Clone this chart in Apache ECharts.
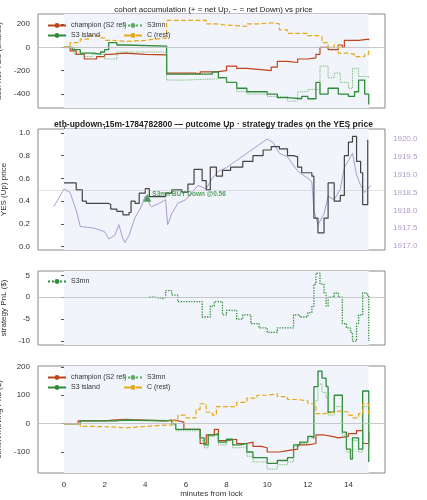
<!DOCTYPE html>
<html>
<head>
<meta charset="utf-8">
<script src="https://cdn.jsdelivr.net/npm/echarts@6.0.0/dist/echarts.min.js"></script>
<style>html,body{margin:0;background:#fff}#main{width:427px;height:500px}</style>
</head>
<body>
<div id="main"></div>
<script>
// panel 1: accumulated net YES shares
var accChampT = [0,0.3,0.6,1.0,1.6,2.0,2.3,3.0,4.0,5.05,6.5,6.7,7.5,8.0,8.5,9.0,9.7,10.2,10.5,11.0,11.5,12.0,12.4,12.6,13.0,13.5,13.7,13.8,14.5,15.0];
var accChampV = [0,-30,-60,-100,-80,-60,-50,-60,-65,-220,-230,-210,-200,-160,-180,-190,-200,-170,-120,-130,-100,-90,-60,0,-20,20,0,60,70,60];
var accIslT = [0,0.4,0.8,1.5,1.8,2.0,2.2,2.6,3.0,5.05,7.0,7.3,7.6,8.0,8.5,9.0,10.0,10.5,11.0,11.7,12.0,12.4,12.6,13.0,13.5,14.0,14.3,14.5,14.8,15.0];
var accIslV = [0,-20,-50,-60,-40,-20,40,20,10,-230,-230,-210,-260,-300,-350,-380,-400,-430,-440,-420,-440,-300,-400,-350,-400,-420,-380,-280,-400,-490];
var accMnT = [0,0.5,1.0,1.4,2.0,2.6,5.05,6.0,7.5,8.0,8.5,9.0,10.0,11.0,11.5,12.0,12.6,13.0,13.3,13.6,14.0,14.2,14.5,15.0];
var accMnV = [0,-60,-80,-60,-100,-40,-280,-270,-260,-300,-380,-400,-420,-460,-380,-360,-160,-260,-220,-300,-350,-180,-250,-260];
var accCT = [0,0.3,0.8,1.2,1.8,2.0,2.4,3.0,4.0,4.5,5.05,6.5,7.0,7.5,8.0,9.0,9.5,10.3,10.6,11.0,12.0,12.5,12.7,13.0,13.3,13.5,14.0,14.3,14.8,15.0];
var accCV = [0,40,70,100,80,60,50,60,70,80,230,230,200,190,180,200,210,200,150,120,100,90,40,0,20,-50,-60,-80,-60,-10];

// panel 2: YES price and ETH/USD
var yesT = [0,0.5,0.6,0.9,1.1,2.2,2.3,2.6,2.9,3.2,3.3,3.5,3.7,4.0,4.2,5.0,5.3,5.8,6.1,6.4,6.8,7.0,7.2,7.5,7.8,8.2,8.8,9.3,9.8,10.2,10.6,11.0,11.3,11.5,11.7,12.2,12.3,12.5,12.8,13.0,13.3,13.6,13.8,14.0,14.2,14.4,14.6,14.7,14.95];
var yesV = [0.56,0.56,0.5,0.4,0.38,0.37,0.33,0.31,0.28,0.30,0.40,0.38,0.47,0.51,0.44,0.47,0.50,0.48,0.55,0.68,0.58,0.50,0.70,0.62,0.67,0.70,0.75,0.80,0.85,0.88,0.86,0.80,0.79,0.70,0.65,0.62,0.25,0.12,0.25,0.56,0.40,0.45,0.80,0.92,0.97,0.75,0.65,0.37,0.94];
var ethT = [-0.5,-0.3,0,0.3,0.6,0.8,1.5,2.0,2.2,2.5,2.7,2.9,3.0,3.2,3.5,3.8,4.0,4.3,4.7,5.0,5.1,5.3,5.6,6.0,6.3,6.6,7.0,7.3,7.6,8.0,8.5,9.0,9.5,10.0,10.3,10.6,11.0,11.5,12.0,12.2,12.3,12.5,12.8,13.0,13.3,13.6,13.8,14.0,14.2,14.4,14.6,14.8,15.1];
var ethV = [1918.1,1918.3,1918.6,1918.5,1918.0,1917.55,1917.5,1917.4,1917.2,1917.3,1917.6,1917.2,1917.1,1917.3,1917.8,1918.1,1918.4,1918.1,1918.2,1918.3,1917.6,1917.9,1918.2,1918.3,1918.5,1918.7,1918.6,1918.9,1919.1,1919.2,1919.4,1919.6,1919.8,1920.0,1919.9,1919.6,1919.5,1919.1,1918.9,1918.8,1918.0,1917.6,1917.9,1918.4,1918.3,1918.6,1919.2,1919.4,1919.6,1919.0,1918.7,1918.5,1918.7];
var tradeT = [4.1];
var tradeV = [0.43];

// panel 3: strategy PnL
var pnlT = [4.2,4.5,4.9,5.0,5.3,5.6,6.5,6.8,7.2,7.4,7.8,8.0,8.5,8.8,9.2,9.6,10.0,10.5,11.0,11.3,11.6,12.0,12.2,12.3,12.4,12.6,12.8,12.9,13.0,13.3,13.5,13.7,13.9,14.1,14.2,14.4,14.5,14.7,14.9,15.0];
var pnlV = [0,-0.3,0,1.5,0.5,-1,-1,-4.5,-2,-1,-4,-3,-5,-4,-6,-7,-8,-7,-7,-4,-4.5,-3.5,-2,3,5.5,3,1,-2,0,1,0,-6,-7,-8,-10,-6,-4,1,0.5,-10];

// panel 4: cohort moving PnL
var mvChampT = [0,0.6,0.7,2.0,2.4,3.0,5.0,5.5,5.9,6.5,6.7,7.0,7.4,7.6,8.0,8.5,9.0,9.3,9.7,10.0,10.6,11.0,11.5,12.0,12.4,12.8,13.2,13.5,14.0,14.4,14.7,15.0];
var mvChampV = [0,0,10,12,15,10,12,5,-20,-20,-70,-40,-20,-60,-55,-70,-65,-80,-85,-100,-95,-90,-75,-70,-40,-45,-50,-45,-35,-25,-70,-30];
var mvIslT = [0,0.6,0.8,2.5,3.0,5.0,5.3,5.5,6.6,6.7,6.9,7.1,7.4,7.6,8.0,8.3,8.7,9.0,9.3,10.0,10.5,11.0,11.3,11.6,12.0,12.2,12.3,12.5,12.7,12.9,13.0,13.3,13.6,13.7,13.9,14.1,14.2,14.5,14.7,14.9,15.0];
var mvIslV = [0,0,10,12,10,12,0,-20,-20,-50,-75,-40,-35,-65,-55,-75,-70,-100,-120,-140,-130,-120,-75,-65,-45,-50,130,185,160,130,40,100,100,-30,-90,-125,-50,-90,115,115,-135];
var mvMnT = [0,0.6,0.8,2.5,3.0,5.0,5.3,5.5,6.6,6.7,6.9,7.1,7.4,7.6,8.0,8.3,8.7,9.0,9.3,10.0,10.5,11.0,11.3,11.6,12.0,12.2,12.3,12.5,12.7,12.9,13.0,13.3,13.6,13.7,13.9,14.1,14.2,14.5,14.7,14.9,15.0];
var mvMnV = [0,0,8,15,12,10,-5,-25,-25,-60,-85,-45,-40,-75,-60,-85,-80,-115,-135,-160,-145,-135,-80,-70,-50,-55,80,140,110,90,30,60,60,-40,-100,-120,-60,-100,60,60,-100];
var mvCT = [0,0.5,0.8,1.5,2.5,3.0,4.0,5.0,5.3,5.6,6.0,6.5,6.7,7.0,7.3,7.5,8.0,8.5,9.0,9.5,10.0,10.5,11.0,11.5,12.0,12.4,12.8,13.3,13.6,14.0,14.2,14.5,14.7,15.0];
var mvCV = [0,0,-10,-12,-15,-10,-5,-5,10,30,20,50,70,40,30,60,60,75,90,100,105,95,85,80,70,35,40,45,40,30,20,35,70,30];

var xTicks = [0,2,4,6,8,10,12,14];

var RED = '#c0431c', GRN = '#2e8b3a', MN = '#5fae5f', ORG = '#e6a817', ETH = '#b09ad0';
function pairs(t, v) { return t.map(function (x, i) { return [x, v[i]]; }); }

var grids = [
    { left: 38, right: 42, top: 14, height: 94 },
    { left: 38, right: 42, top: 129, height: 121 },
    { left: 38, right: 42, top: 271, height: 74 },
    { left: 38, right: 42, top: 366, height: 107 }
];
grids.forEach(function (g) {
    g.show = true; g.borderColor = '#888'; g.borderWidth = 1;
    g.outerBoundsMode = 'none'; g.containLabel = false;
});

function xAxis(i, last) {
    return {
        type: 'value', gridIndex: i, min: -1.28, max: 15.8,
        axisLine: { show: false },
        axisTick: { show: true, customValues: xTicks, length: 3, lineStyle: { color: '#555' } },
        axisLabel: { show: last, customValues: xTicks, fontSize: 8, color: '#333' },
        splitLine: { show: false },
        name: last ? 'minutes from lock' : '', nameLocation: 'middle', nameGap: 16,
        nameTextStyle: { fontSize: 8, color: '#333' }
    };
}
function yAxis(i, min, max, ticks, name, fmt) {
    return {
        type: 'value', gridIndex: i, min: min, max: max,
        axisLine: { show: false },
        axisTick: { show: true, customValues: ticks, length: 3, lineStyle: { color: '#555' } },
        axisLabel: { customValues: ticks, fontSize: 8, color: '#333', formatter: fmt },
        splitLine: { show: false },
        name: name, nameLocation: 'middle', nameGap: 26,
        nameTextStyle: { fontSize: 8, color: '#333' }
    };
}
function shade(xi, yi) {
    return {
        type: 'line', xAxisIndex: xi, yAxisIndex: yi, data: [], silent: true,
        markArea: { silent: true, itemStyle: { color: '#f1f4fa' }, data: [[{ xAxis: 0 }, { xAxis: 15 }]] }
    };
}
function zero(xi, yi, v, type) {
    return {
        type: 'line', xAxisIndex: xi, yAxisIndex: yi, data: [], silent: true,
        markLine: { silent: true, symbol: 'none', label: { show: false },
            lineStyle: { color: '#bbb', width: 0.8, type: type || 'solid' }, data: [{ yAxis: v }] }
    };
}
function step(name, xi, yi, t, v, color, width, type, z) {
    return {
        name: name, type: 'line', step: 'end', xAxisIndex: xi, yAxisIndex: yi,
        data: pairs(t, v), showSymbol: false, symbol: 'none', z: z || 3,
        lineStyle: { color: color, width: width, type: type || 'solid' },
        itemStyle: { color: color }
    };
}
function legend(left, top, names) {
    return {
        left: left, top: top, orient: 'vertical', itemWidth: 18, itemHeight: 6, itemGap: 3,
        textStyle: { fontSize: 7, color: '#333' }, data: names, selectedMode: false
    };
}

var chart = echarts.init(document.getElementById('main'));
chart.setOption({
    animation: false,
    title: [
        { text: 'cohort accumulation (+ = net Up, \u2212 = net Down) vs price', left: 'center', top: 1,
          textStyle: { fontSize: 8, fontWeight: 'normal', color: '#222' } },
        { text: 'eth-updown-15m-1784782800 \u2014 outcome Up \u00b7 strategy trades on the YES price', left: 'center', top: 115,
          textStyle: { fontSize: 8.5, fontWeight: 'bold', color: '#222' } }
    ],
    legend: [
        legend(42, 17, ['champion (S2 ref)', 'S3 island']),
        legend(118, 17, ['S3mn', 'C (rest)']),
        legend(42, 273, [{ name: 'S3mn ' }]),
        legend(42, 369, ['champion (S2 ref)', 'S3 island']),
        legend(118, 369, ['S3mn', 'C (rest)'])
    ],
    grid: grids,
    xAxis: [xAxis(0, false), xAxis(1, false), xAxis(2, false), xAxis(3, true), xAxis(1, false)],
    yAxis: [
        yAxis(0, -519, 285, [-400, -200, 0, 200], 'acc. net YES (shares)'),
        yAxis(1, -0.03, 1.035, [0, 0.2, 0.4, 0.6, 0.8, 1.0], 'YES (Up) price', function (v) { return v.toFixed(1); }),
        yAxis(2, -10.9, 6, [-10, -5, 0, 5], 'strategy PnL ($)'),
        yAxis(3, -174, 203, [-100, 0, 100, 200], 'cohort moving PnL ($)'),
        {
            type: 'value', gridIndex: 1, position: 'right', min: 1916.89, max: 1920.28,
            axisLine: { show: false },
            axisTick: { show: true, customValues: [1917, 1917.5, 1918, 1918.5, 1919, 1919.5, 1920], length: 3, lineStyle: { color: ETH } },
            axisLabel: { customValues: [1917, 1917.5, 1918, 1918.5, 1919, 1919.5, 1920], fontSize: 8, color: ETH,
                formatter: function (v) { return v.toFixed(1); } },
            splitLine: { show: false },
            name: 'ETH/USD (strike dotted = YES 0.5)', nameLocation: 'middle', nameGap: 34, nameRotate: -90,
            nameTextStyle: { fontSize: 6.5, color: ETH }
        }
    ],
    series: [
        shade(0, 0), shade(1, 1), shade(2, 2), shade(3, 3),
        zero(0, 0, 0), zero(2, 2, 0), zero(3, 3, 0), zero(1, 1, 0.5, 'dotted'),
        step('champion (S2 ref)', 0, 0, accChampT, accChampV, RED, 1.2),
        step('S3 island', 0, 0, accIslT, accIslV, GRN, 1.3),
        step('S3mn', 0, 0, accMnT, accMnV, MN, 0.9, 'dotted'),
        step('C (rest)', 0, 0, accCT, accCV, ORG, 1.2, 'dashed'),
        {
            type: 'line', xAxisIndex: 4, yAxisIndex: 4, data: pairs(ethT, ethV), showSymbol: false, symbol: 'none', z: 2,
            lineStyle: { color: ETH, width: 1 }
        },
        step('YES', 1, 1, yesT, yesV, '#444', 1.2, 'solid', 4),
        {
            type: 'scatter', xAxisIndex: 1, yAxisIndex: 1, data: pairs(tradeT, tradeV), symbol: 'triangle', symbolSize: 8, z: 5,
            itemStyle: { color: '#2e8b3a' },
            label: { show: true, position: 'right', distance: 1, offset: [0, -4], formatter: 'S3mn BUY Down @0.56',
                fontSize: 6.5, fontWeight: 'bold', color: '#2e8b3a' }
        },
        step('S3mn ', 2, 2, pnlT, pnlV, GRN, 1.3, 'dotted'),
        step('champion (S2 ref)', 3, 3, mvChampT, mvChampV, RED, 1.2),
        step('S3 island', 3, 3, mvIslT, mvIslV, GRN, 1.3),
        step('S3mn', 3, 3, mvMnT, mvMnV, MN, 0.9, 'dotted'),
        step('C (rest)', 3, 3, mvCT, mvCV, ORG, 1.2, 'dashed')
    ]
});
</script>
</body>
</html>
